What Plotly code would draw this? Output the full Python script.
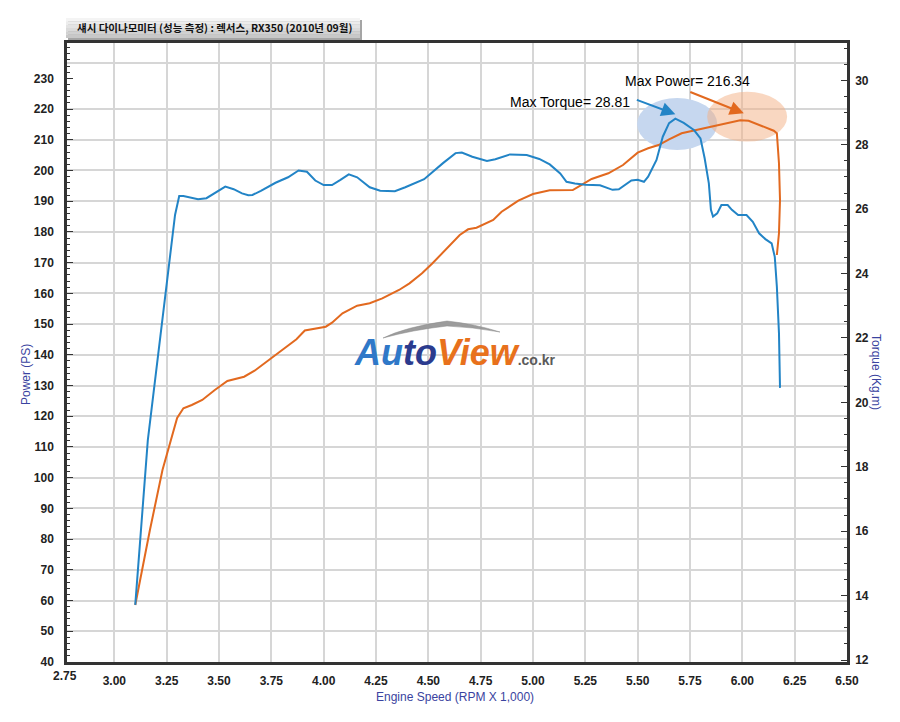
import plotly.graph_objects as go

# ---------------- data ----------------
rpm_torque = [3.10, 3.16, 3.29, 3.31, 3.33, 3.40, 3.44, 3.47, 3.53, 3.57, 3.61, 3.64, 3.66, 3.70, 3.77,
              3.83, 3.88, 3.92, 3.96, 4.00, 4.04, 4.08, 4.12, 4.16, 4.22, 4.27, 4.34, 4.39, 4.48, 4.57,
              4.63, 4.66, 4.71, 4.78, 4.82, 4.89, 4.97, 5.03, 5.08, 5.13, 5.16, 5.20, 5.25, 5.32, 5.38,
              5.41, 5.47, 5.50, 5.53, 5.55, 5.59, 5.62, 5.65, 5.68, 5.72, 5.77, 5.80, 5.82, 5.84, 5.85,
              5.86, 5.88, 5.90, 5.93, 5.95, 5.98, 6.02, 6.05, 6.08, 6.11, 6.14, 6.155, 6.165, 6.175, 6.18]
torque = [13.71, 18.83, 25.82, 26.41, 26.41, 26.31, 26.34, 26.46, 26.70, 26.62, 26.49, 26.43, 26.44, 26.57, 26.82,
          26.99, 27.20, 27.16, 26.89, 26.75, 26.75, 26.91, 27.08, 26.99, 26.68, 26.57, 26.56, 26.68, 26.93, 27.43,
          27.74, 27.76, 27.63, 27.50, 27.55, 27.70, 27.68, 27.56, 27.39, 27.11, 26.85, 26.80, 26.76, 26.74, 26.60,
          26.62, 26.89, 26.91, 26.85, 27.01, 27.53, 28.25, 28.67, 28.81, 28.68, 28.45, 28.20, 27.58, 26.80, 25.98,
          25.77, 25.87, 26.13, 26.13, 25.98, 25.82, 25.82, 25.61, 25.25, 25.07, 24.94, 24.52, 23.59, 22.15, 20.45]

rpm_power = [3.10, 3.17, 3.23, 3.27, 3.30, 3.33, 3.37, 3.42, 3.48, 3.54, 3.62, 3.67, 3.75, 3.81, 3.87,
             3.91, 3.96, 4.01, 4.04, 4.09, 4.16, 4.22, 4.28, 4.36, 4.41, 4.47, 4.52, 4.58, 4.65, 4.69,
             4.73, 4.81, 4.85, 4.93, 5.00, 5.08, 5.13, 5.19, 5.23, 5.28, 5.36, 5.43, 5.50, 5.55, 5.60,
             5.65, 5.71, 5.78, 5.84, 5.92, 5.99, 6.03, 6.08, 6.15, 6.165, 6.175, 6.18, 6.175, 6.165]
power = [58.55, 82.97, 102.5, 112.27, 119.43, 122.58, 123.66, 125.29, 128.54, 131.47, 132.87, 134.82, 138.86, 142.1, 145.05,
         147.9, 148.6, 149.15, 150.45, 153.5, 156.0, 156.77, 158.39, 161.1, 163.27, 166.53, 169.79, 174.11, 179.0, 180.85,
         181.37, 183.88, 186.58, 190.16, 192.34, 193.55, 193.65, 193.65, 195.27, 197.23, 199.08, 201.78, 205.79, 207.22, 208.29,
         210.15, 212.1, 213.18, 213.93, 215.13, 216.34, 216.2, 214.8, 212.95, 212.1, 202.34, 190.39, 179.55, 172.49]

x_ticks = [3.00, 3.25, 3.50, 3.75, 4.00, 4.25, 4.50, 4.75, 5.00, 5.25, 5.50, 5.75, 6.00, 6.25, 6.50]
power_ticks = list(range(40, 231, 10))
torque_ticks = list(range(12, 31, 2))

max_power = 216.34
max_torque = 28.81
title_text = "섀시 다이나모미터 (성능 측정) : 렉서스, RX350 (2010년 09월)"

# ---------------- styling ----------------
BLUE = "#2284c6"
ORANGE = "#e2691f"
AXC = "#333333"
GRID = "#d6d6d6"
TITLEC = "#3a43a0"
SANS = "Liberation Sans, Arial, sans-serif"

W, H = 900, 722
L, R, T, B = 67, 53, 43, 60
PW, PH = W - L - R, H - T - B


def px(xp, yp):
    """reference pixel -> paper (for decorations only)"""
    return (xp - L) / PW, (H - B - yp) / PH


fig = go.Figure()

fig.add_trace(go.Scatter(x=rpm_power, y=power, mode="lines", name="Power",
                         line=dict(color=ORANGE, width=2), yaxis="y", hoverinfo="skip"))
fig.add_trace(go.Scatter(x=rpm_torque, y=torque, mode="lines", name="Torque",
                         line=dict(color=BLUE, width=2), yaxis="y2", hoverinfo="skip"))

shapes = []
# highlight ellipses
shapes.append(dict(type="circle", xref="x", yref="y", x0=5.497, x1=5.880, y0=206.7, y1=223.6,
                   fillcolor="#c6d7ef", line=dict(width=0), layer="between"))
shapes.append(dict(type="circle", xref="x", yref="y", x0=5.832, x1=6.214, y0=209.4, y1=225.6,
                   fillcolor="rgba(243,175,132,0.5)", line=dict(width=0), layer="between"))

# title box (gradient made of bands) + shadow
bx0, by0 = px(66, 18)
bx1, by1 = px(360, 38)
sx0, sy0 = px(68, 20)
sx1, sy1 = px(362, 40)
shapes.append(dict(type="rect", xref="paper", yref="paper", x0=sx0, x1=sx1, y0=sy1, y1=sy0,
                   fillcolor="#a5a5a5", line=dict(width=0), layer="above"))
bands = ["#f4f4f4", "#ececec", "#e3e3e3", "#dadada", "#d1d1d1", "#c8c8c8"]
for i, c in enumerate(bands):
    ya = by0 + (by1 - by0) * i / len(bands)
    yb = by0 + (by1 - by0) * (i + 1) / len(bands)
    shapes.append(dict(type="rect", xref="paper", yref="paper", x0=bx0, x1=bx1, y0=ya, y1=yb,
                       fillcolor=c, line=dict(width=0), layer="above"))

# logo swoosh
pts = [(383, 338), (405, 327), (447, 321), (475, 324), (500, 332), (472, 327), (447, 326), (412, 330), (383, 338)]
pp = [px(a, b) for a, b in pts]
path = (f"M {pp[0][0]},{pp[0][1]} Q {pp[1][0]},{pp[1][1]} {pp[2][0]},{pp[2][1]} "
        f"Q {pp[3][0]},{pp[3][1]} {pp[4][0]},{pp[4][1]} Q {pp[5][0]},{pp[5][1]} {pp[6][0]},{pp[6][1]} "
        f"Q {pp[7][0]},{pp[7][1]} {pp[8][0]},{pp[8][1]} Z")
shapes.append(dict(type="path", xref="paper", yref="paper", path=path,
                   fillcolor="#9c9c9c", line=dict(color="#8a8a8a", width=0.5), layer="above"))

ann = []
tx, ty = px(214, 28)
ann.append(dict(xref="paper", yref="paper", x=tx, y=ty, text=f"<b>{title_text}</b>", showarrow=False,
                font=dict(family="Noto Sans CJK KR, sans-serif", size=10.5, color="#111111"),
                xanchor="center", yanchor="middle"))

# max labels with arrows
ann.append(dict(xref="x", yref="y", x=5.680, y=218.3, ax=-40, ay=-15, text="", showarrow=True,
                arrowhead=2, arrowsize=1.4, arrowwidth=2, arrowcolor=BLUE))
ann.append(dict(xref="x", yref="y", x=6.007, y=218.6, ax=-55, ay=-22, text="", showarrow=True,
                arrowhead=2, arrowsize=1.4, arrowwidth=2, arrowcolor=ORANGE))
ann.append(dict(xref="x", yref="y", x=5.178, y=222.4, text=f"Max Torque= {max_torque:.2f}", showarrow=False,
                font=dict(family=SANS, size=14, color="#000"), xanchor="center", yanchor="middle"))
ann.append(dict(xref="x", yref="y", x=5.736, y=229.1, text=f"Max Power= {max_power:.2f}", showarrow=False,
                font=dict(family=SANS, size=14, color="#000"), xanchor="center", yanchor="middle"))

# axis titles
lx, ly = px(26, 375)
ann.append(dict(xref="paper", yref="paper", x=lx, y=ly, text="Power (PS)", textangle=-90, showarrow=False,
                font=dict(family=SANS, size=12, color=TITLEC), xanchor="center", yanchor="middle"))
rx, ry = px(876, 372)
ann.append(dict(xref="paper", yref="paper", x=rx, y=ry, text="Torque (Kg.m)", textangle=90, showarrow=False,
                font=dict(family=SANS, size=12, color=TITLEC), xanchor="center", yanchor="middle"))
ex, ey = px(455, 697)
ann.append(dict(xref="paper", yref="paper", x=ex, y=ey, text="Engine Speed (RPM X 1,000)", showarrow=False,
                font=dict(family=SANS, size=12, color=TITLEC), xanchor="center", yanchor="middle"))

# first x tick label, sitting just left of the spine
fx, fy = px(64.5, 676)
ann.append(dict(xref="paper", yref="paper", x=fx, y=fy, text="<b>2.75</b>", showarrow=False,
                font=dict(family=SANS, size=12, color="#222"), xanchor="center", yanchor="middle"))

# logo
gx, gy = px(455, 352)
logo = ("<i><b><span style='color:#2f78c8'>Au</span><span style='color:#2b3b8e'>to</span>"
        "<span style='color:#e8711c'>View</span></b></i>"
        "<b><span style='color:#5a5a5a;font-size:14px'>.co.kr</span></b>")
ann.append(dict(xref="paper", yref="paper", x=gx, y=gy, text=logo, showarrow=False,
                font=dict(family=SANS, size=36, color="#2f5fb3"),
                xanchor="center", yanchor="middle"))

tickfont = dict(family=SANS, size=12, color="#222", weight="bold")

fig.update_layout(
    width=W, height=H,
    margin=dict(l=L, r=R, t=T, b=B, autoexpand=False),
    paper_bgcolor="white", plot_bgcolor="white",
    showlegend=False,
    shapes=shapes, annotations=ann,
    xaxis=dict(range=[2.7739, 6.5], tickvals=x_ticks, ticktext=[f"{v:.2f}" for v in x_ticks],
               showgrid=True, gridcolor=GRID, gridwidth=1.5, zeroline=False,
               showline=True, linecolor=AXC, linewidth=2.5, mirror=True,
               ticks="", tickfont=tickfont, ticklabelstandoff=6),
    yaxis=dict(range=[40, 241.5], tickvals=power_ticks, showgrid=False, zeroline=False,
               showline=True, linecolor=AXC, linewidth=2.5,
               ticks="inside", ticklen=6, tickcolor=AXC, tickwidth=1.2,
               minor=dict(dtick=2, ticks="inside", ticklen=3, tickcolor=AXC, tickwidth=1),
               tickfont=tickfont, ticklabelstandoff=8),
    yaxis2=dict(range=[11.938, 31.16], tickvals=torque_ticks, overlaying="y", side="right",
                showgrid=False, zeroline=False, showline=True, linecolor=AXC, linewidth=2.5,
                ticks="inside", ticklen=6, tickcolor=AXC, tickwidth=1.2,
                minor=dict(dtick=0.5, ticks="inside", ticklen=3, tickcolor=AXC, tickwidth=1),
                tickfont=tickfont, ticklabelstandoff=3),
    yaxis3=dict(range=[40, 241.5], overlaying="y", tickvals=power_ticks[:-1] + [235],
                showgrid=True, gridcolor=GRID, gridwidth=1.5, showticklabels=False,
                ticks="", showline=False, zeroline=False),
)
# dummy trace to activate the grid axis
fig.add_trace(go.Scatter(x=[None], y=[None], yaxis="y3", showlegend=False, hoverinfo="skip"))

fig.write_html("out.html", config={"displayModeBar": False},
               post_script="document.body.style.margin='0';")
